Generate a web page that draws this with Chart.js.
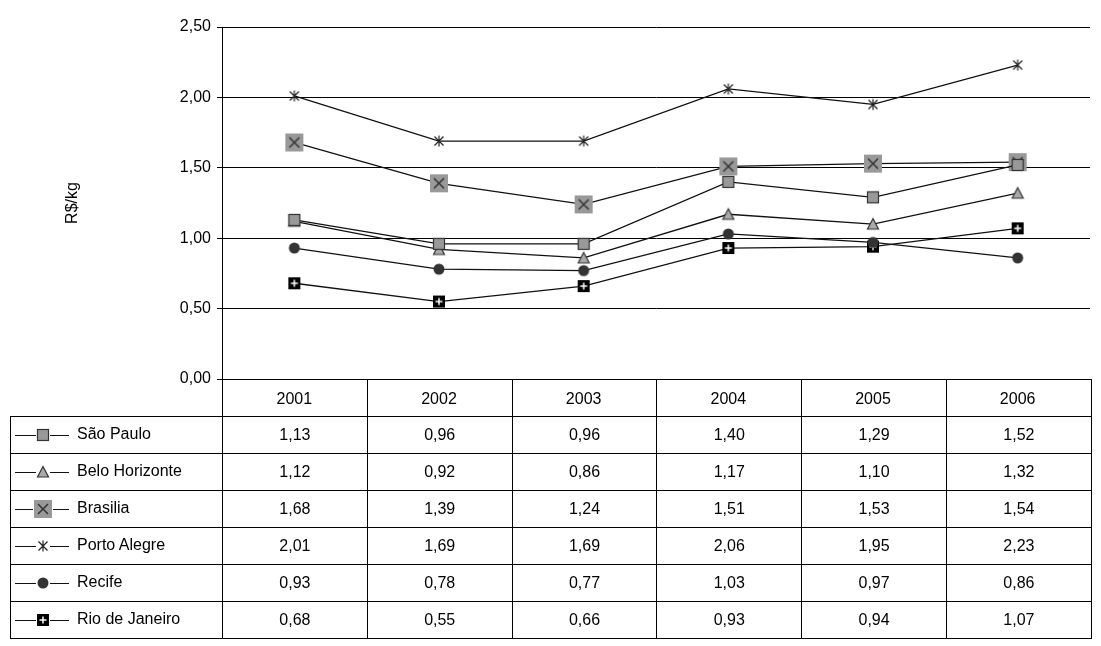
<!DOCTYPE html>
<html><head><meta charset="utf-8">
<script src="https://cdn.jsdelivr.net/npm/chart.js@4"></script>
<style>
body{margin:0;background:#fff;font-family:"Liberation Sans",Arial,sans-serif}
#wrap{position:relative;width:1101px;height:646px;overflow:hidden}
canvas#c{position:absolute;left:0;top:0}
table{position:absolute;left:10px;top:379px;border-collapse:collapse;font-size:16px;color:#000;table-layout:fixed;width:1081px}
td{border:1px solid #000;height:36px;padding:0;text-align:center}
td.lab{text-align:left;white-space:nowrap}
td.blank{border:none;border-right:1px solid #000;border-bottom:1px solid #000}
td.yr{color:transparent}
</style></head><body>
<div id="wrap"><canvas id="c" width="1101" height="646"></canvas><table id="t"></table></div>
<script>
const years = ["2001","2002","2003","2004","2005","2006"];
const seriesNames = ["São Paulo","Belo Horizonte","Brasilia","Porto Alegre","Recife","Rio de Janeiro"];
const saoPaulo = [1.13,0.96,0.96,1.40,1.29,1.52];
const beloHorizonte = [1.12,0.92,0.86,1.17,1.10,1.32];
const brasilia = [1.68,1.39,1.24,1.51,1.53,1.54];
const portoAlegre = [2.01,1.69,1.69,2.06,1.95,2.23];
const recife = [0.93,0.78,0.77,1.03,0.97,0.86];
const rioDeJaneiro = [0.68,0.55,0.66,0.93,0.94,1.07];
const allValues = [saoPaulo,beloHorizonte,brasilia,portoAlegre,recife,rioDeJaneiro];

function mk(w, draw){const c=document.createElement('canvas');c.width=w;c.height=w;draw(c.getContext('2d'),w);return c;}
const brasMark = mk(20,(g,w)=>{g.fillStyle='#999';g.fillRect(1,1,18,18);g.strokeStyle='#333';g.lineWidth=1.5;g.beginPath();g.moveTo(5,5);g.lineTo(15,15);g.moveTo(15,5);g.lineTo(5,15);g.stroke();});
const rioMark = mk(14,(g,w)=>{g.fillStyle='#000';g.fillRect(1,1,12,12);g.strokeStyle='#fff';g.lineWidth=1.5;g.beginPath();g.moveTo(7,3.5);g.lineTo(7,10.5);g.moveTo(3.5,7);g.lineTo(10.5,7);g.stroke();});
const spMark = mk(14,(g)=>{g.fillStyle='#999';g.fillRect(1.5,1.5,11,11);g.strokeStyle='#333';g.lineWidth=1.2;g.strokeRect(1.5,1.5,11,11);});
const bhMark = mk(14,(g)=>{g.fillStyle='#aaa';g.strokeStyle='#333';g.lineWidth=1.2;g.beginPath();g.moveTo(7,1.5);g.lineTo(12.5,12);g.lineTo(1.5,12);g.closePath();g.fill();g.stroke();});
const paMark = mk(14,(g)=>{g.strokeStyle='#222';g.lineWidth=1.2;g.beginPath();g.moveTo(2.5,2.5);g.lineTo(11.5,11.5);g.moveTo(11.5,2.5);g.lineTo(2.5,11.5);g.moveTo(7,1.5);g.lineTo(7,12.5);g.stroke();});
const reMark = mk(14,(g)=>{g.fillStyle='#333';g.beginPath();g.arc(7,7,5.5,0,Math.PI*2);g.fill();});
const marks = [spMark,bhMark,brasMark,paMark,reMark,rioMark];

new Chart(document.getElementById('c'),{
  type:'line',
  data:{labels:years,datasets:seriesNames.map((n,i)=>({label:n,data:allValues[i],borderColor:'#111',borderWidth:1.3,pointStyle:marks[i],fill:false,tension:0}))},
  options:{responsive:false,animation:false,
    layout:{padding:{top:27,right:11,bottom:230,left:0}},
    plugins:{legend:{display:false},tooltip:{enabled:false}},
    scales:{
      x:{offset:true,grid:{display:false},border:{display:true,color:'#000'},ticks:{color:'#000',font:{size:16,family:'Liberation Sans'},padding:3},
         afterFit(s){s.height=37;}},
      y:{min:0,max:2.5,afterFit(s){s.width=222;},
         ticks:{stepSize:0.5,color:'#000',font:{size:16,family:'Liberation Sans'},padding:6,callback:v=>v.toFixed(2).replace('.',',')},
         grid:{color:'#000',lineWidth:1,tickLength:5},border:{color:'#000'},
         title:{display:true,text:'R$/kg',color:'#000',font:{size:16,family:'Liberation Sans'},padding:{top:63,bottom:0}}}
    }}
});

const t=document.getElementById('t');
let h='<colgroup><col style="width:212px">'+years.map(()=>'<col style="width:144.8px">').join('')+'</colgroup>';
h+='<tr><td class="blank lab"></td>'+years.map(y=>'<td class="yr">'+y+'</td>').join('')+'</tr>';
seriesNames.forEach((n,i)=>{
  const src=marks[i].toDataURL();
  h+='<tr><td class="lab"><span style="display:inline-block;width:66px;position:relative;vertical-align:middle;height:20px"><span style="position:absolute;left:4px;right:8px;top:10px;border-top:1.3px solid #111"></span><img src="'+src+'" style="position:absolute;left:'+(32-marks[i].width/2)+'px;top:'+(10-marks[i].height/2)+'px;background:#fff"></span>'+n+'</td>'+
     allValues[i].map(v=>'<td>'+v.toFixed(2).replace('.',',')+'</td>').join('')+'</tr>';
});
t.innerHTML=h;
</script></body></html>
